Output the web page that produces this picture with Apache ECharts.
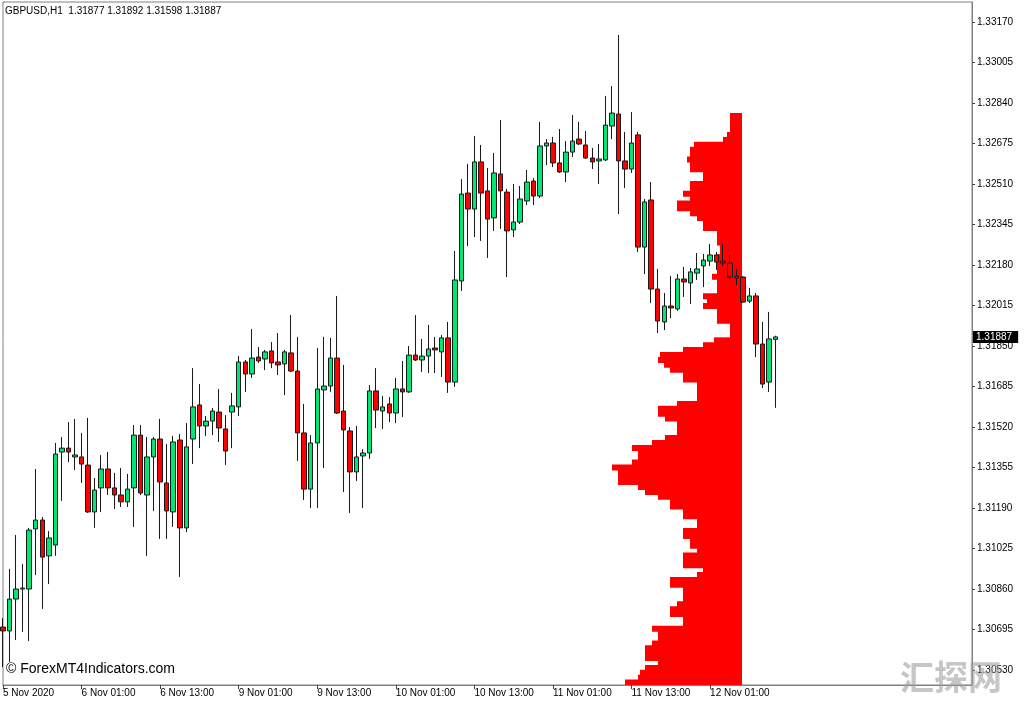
<!DOCTYPE html>
<html><head><meta charset="utf-8">
<script src="https://cdn.jsdelivr.net/npm/echarts@6/dist/echarts.min.js"></script>
<style>html,body{margin:0;padding:0;background:#fff}#c{width:1024px;height:705px}</style>
</head><body><div id="c"></div>
<script>
const symbol = 'GBPUSD,H1';
const tickLabels = ['5 Nov 2020','6 Nov 01:00','6 Nov 13:00','9 Nov 01:00','9 Nov 13:00','10 Nov 01:00','10 Nov 13:00','11 Nov 01:00','11 Nov 13:00','12 Nov 01:00'];
const priceTicks = [1.33170,1.33005,1.32840,1.32675,1.32510,1.32345,1.32180,1.32015,1.31850,1.31685,1.31520,1.31355,1.31190,1.31025,1.30860,1.30695,1.30530];

const opens = [1.30705,1.30689,1.30819,1.30860,1.30860,1.31105,1.31141,1.30995,1.31039,1.31418,
1.31434,1.31398,1.31398,1.31365,1.31174,1.31272,1.31349,1.31272,1.31243,1.31215,
1.31272,1.31487,1.31243,1.31398,1.31471,1.31292,1.31174,1.31467,1.31109,1.31471,
1.31610,1.31524,1.31544,1.31581,1.31512,1.31581,1.31602,1.31785,1.31736,1.31805,
1.31797,1.31830,1.31785,1.31777,1.31822,1.31748,1.31496,1.31267,1.31455,1.31671,
1.31687,1.31801,1.31585,1.31504,1.31337,1.31402,1.31414,1.31667,1.31585,1.31614,
1.31577,1.31675,1.31663,1.31813,1.31793,1.31809,1.31842,1.31826,1.31883,1.31703,
1.32115,1.32473,1.32408,1.32600,1.32482,1.32372,1.32551,1.32477,1.32323,1.32355,
1.32441,1.32522,1.32461,1.32665,1.32677,1.32596,1.32559,1.32640,1.32693,1.32669,
1.32616,1.32604,1.32608,1.32746,1.32795,1.32604,1.32571,1.32710,1.32253,1.32445,
1.32082,1.31948,1.32013,1.32001,1.32123,1.32107,1.32147,1.32176,1.32196,1.32221,
1.32196,1.32188,1.32135,1.32131,1.32033,1.32054,1.31858,1.31703,1.31877];
const closes = [1.30689,1.30819,1.30860,1.30864,1.31100,1.31141,1.30990,1.31068,1.31410,1.31434,
1.31418,1.31406,1.31369,1.31174,1.31263,1.31349,1.31272,1.31243,1.31215,1.31267,
1.31487,1.31251,1.31398,1.31471,1.31296,1.31178,1.31459,1.31109,1.31439,1.31602,
1.31524,1.31544,1.31585,1.31516,1.31422,1.31606,1.31785,1.31736,1.31801,1.31789,
1.31826,1.31781,1.31773,1.31826,1.31748,1.31496,1.31267,1.31455,1.31675,1.31687,
1.31801,1.31577,1.31508,1.31337,1.31398,1.31414,1.31667,1.31589,1.31602,1.31577,
1.31675,1.31663,1.31813,1.31793,1.31809,1.31838,1.31834,1.31883,1.31703,1.32119,
1.32469,1.32408,1.32600,1.32473,1.32367,1.32555,1.32482,1.32319,1.32355,1.32449,
1.32518,1.32461,1.32665,1.32677,1.32596,1.32559,1.32640,1.32685,1.32673,1.32616,
1.32600,1.32612,1.32750,1.32799,1.32604,1.32571,1.32677,1.32253,1.32437,1.32082,
1.31952,1.32013,1.32005,1.32123,1.32111,1.32152,1.32164,1.32200,1.32221,1.32192,
1.32188,1.32131,1.32127,1.32029,1.32054,1.31858,1.31695,1.31879,1.31887];
const highs = [1.30742,1.30942,1.31080,1.30962,1.31109,1.31349,1.31153,1.31096,1.31455,1.31479,
1.31540,1.31553,1.31496,1.31557,1.31312,1.31406,1.31418,1.31333,1.31353,1.31329,
1.31528,1.31528,1.31479,1.31479,1.31553,1.31451,1.31483,1.31492,1.31536,1.31760,
1.31695,1.31565,1.31597,1.31675,1.31569,1.31659,1.31809,1.31793,1.31919,1.31846,
1.31834,1.31866,1.31903,1.31834,1.31976,1.31887,1.31614,1.31487,1.31842,1.31887,
1.31883,1.32054,1.31773,1.31520,1.31524,1.31430,1.31691,1.31760,1.31646,1.31642,
1.31720,1.31789,1.31850,1.31976,1.31879,1.31936,1.31887,1.31895,1.31948,1.32237,
1.32530,1.32592,1.32706,1.32669,1.32575,1.32636,1.32771,1.32490,1.32510,1.32502,
1.32567,1.32534,1.32763,1.32693,1.32702,1.32734,1.32685,1.32791,1.32763,1.32726,
1.32657,1.32673,1.32869,1.32909,1.33117,1.32722,1.32803,1.32722,1.32449,1.32518,
1.32164,1.32066,1.32135,1.32143,1.32172,1.32168,1.32229,1.32225,1.32266,1.32233,
1.32266,1.32221,1.32164,1.32135,1.32086,1.32066,1.31948,1.31989,1.31892];
const lows = [1.30542,1.30563,1.30652,1.30685,1.30648,1.30917,1.30779,1.30880,1.30995,1.31219,
1.31377,1.31345,1.31292,1.31170,1.31109,1.31174,1.31243,1.31186,1.31194,1.31194,
1.31113,1.31243,1.30995,1.31178,1.31064,1.31064,1.31113,1.30909,1.31092,1.31369,
1.31434,1.31483,1.31487,1.31459,1.31365,1.31434,1.31565,1.31663,1.31720,1.31781,
1.31752,1.31760,1.31732,1.31650,1.31744,1.31382,1.31223,1.31190,1.31190,1.31353,
1.31663,1.31573,1.31255,1.31170,1.31300,1.31190,1.31390,1.31516,1.31512,1.31540,
1.31536,1.31561,1.31659,1.31789,1.31744,1.31740,1.31740,1.31724,1.31659,1.31683,
1.32074,1.32257,1.32294,1.32278,1.32209,1.32319,1.32327,1.32131,1.32294,1.32347,
1.32424,1.32424,1.32453,1.32587,1.32579,1.32555,1.32518,1.32620,1.32669,1.32612,
1.32571,1.32510,1.32604,1.32693,1.32388,1.32494,1.32555,1.32233,1.32143,1.32025,
1.31903,1.31915,1.31964,1.31993,1.32050,1.32021,1.32119,1.32090,1.32176,1.32160,
1.32176,1.32119,1.32099,1.32025,1.32025,1.31805,1.31679,1.31663,1.31598];

// volume profile, bins of 0.0002 from the top level downward
const PROFILE_TOP = 1.32800;
const PROFILE_STEP = 0.0002;
const profileVolume = [12,12,12,12,15,19,48,52,52,55,
52,52,39,39,52,52,59,52,65,65,
52,45,39,39,25,25,25,22,22,25,
25,25,25,30,25,25,25,39,35,39,
25,25,25,12,12,12,28,39,59,82,
84,78,72,59,59,45,45,45,45,65,
84,84,77,65,65,65,77,90,110,104,
104,110,130,124,124,124,104,97,84,72,
72,59,59,45,45,59,59,52,52,45,
59,59,59,39,45,72,72,59,59,59,
65,72,72,59,59,90,84,84,90,97,
97,97,84,97,102,104,117];

const Y_MIN = 1.304689, Y_MAX = 1.332515;
const SLOTS = 149;
const slots = Array.from({length: SLOTS}, (_, i) => String(i));
const candles = opens.map((o, i) => [o, closes[i], lows[i], highs[i]]);
const profileLevels = profileVolume.map((_, j) => (PROFILE_TOP - j * PROFILE_STEP).toFixed(4));
const last = opens.length - 1;
const FONT = '"Liberation Sans", Arial, sans-serif';
const showTick = (i) => i % 12 === 0 && i < opens.length;

const chart = echarts.init(document.getElementById('c'));
chart.setOption({
  animation: false,
  backgroundColor: '#ffffff',
  title: {
    text: symbol + '  ' + [opens[last], highs[last], lows[last], closes[last]].map(v => v.toFixed(5)).join(' '),
    left: 5, top: 6, padding: 0,
    textStyle: {fontSize: 10, fontWeight: 'normal', color: '#000', fontFamily: FONT}
  },
  grid: [
    {left: 2, right: 52, top: 2, bottom: 20, show: true, borderColor: '#808080', borderWidth: 1, backgroundColor: 'transparent'},
    {left: 2, right: 282, top: 113, bottom: 20}
  ],
  xAxis: [
    {type: 'category', gridIndex: 0, data: slots, boundaryGap: false,
     axisLine: {lineStyle: {color: '#808080'}},
     axisTick: {interval: showTick, length: 4, lineStyle: {color: '#404040'}},
     axisLabel: {interval: showTick, align: 'left', margin: 3, fontSize: 10, color: '#000', fontFamily: FONT,
                 formatter: (v, i) => tickLabels[i / 12] || ''},
     splitLine: {show: false}},
    {type: 'value', gridIndex: 1, inverse: true, min: 0, max: 740, show: false}
  ],
  yAxis: [
    {type: 'value', gridIndex: 0, position: 'right', min: Y_MIN, max: Y_MAX, scale: true,
     axisLine: {show: true, lineStyle: {color: '#808080'}},
     axisTick: {show: true, length: 3, customValues: priceTicks, lineStyle: {color: '#404040'}},
     axisLabel: {customValues: priceTicks, formatter: v => v.toFixed(5), fontSize: 10, color: '#000', margin: 5, fontFamily: FONT},
     splitLine: {show: false}},
    {type: 'value', gridIndex: 0, position: 'right', min: Y_MIN, max: Y_MAX, scale: true, z: 10,
     axisLine: {show: false}, axisTick: {show: false},
     axisLabel: {customValues: [closes[last]], formatter: v => v.toFixed(5), fontSize: 10, color: '#fff',
                 backgroundColor: '#000', padding: [1, 6, 1, 3], margin: 1, fontFamily: FONT},
     splitLine: {show: false}},
    {type: 'category', gridIndex: 1, data: profileLevels, inverse: true, show: false}
  ],
  series: [
    {type: 'bar', xAxisIndex: 1, yAxisIndex: 2, data: profileVolume, barWidth: 6, barGap: '-100%',
     itemStyle: {color: '#ff0000'}, silent: true, z: 1},
    {type: 'candlestick', xAxisIndex: 0, yAxisIndex: 0, data: candles, barWidth: 5,
     itemStyle: {color: '#00e676', color0: '#ff0000', borderColor: '#1a1a1a', borderColor0: '#1a1a1a', borderWidth: 1},
     z: 2}
  ],
  graphic: [
    {type: 'text', left: 6, top: 662, z: 100,
     style: {text: '\u00a9 ForexMT4Indicators.com', fontSize: 14, fill: '#000', fontFamily: FONT}},
    {type: 'text', left: 900, top: 660, z: 100,
     style: {text: '汇探网', fontSize: 34, fontWeight: 'bold', fill: 'rgba(160,160,160,0.6)', fontFamily: '"Noto Sans CJK SC", sans-serif'}}
  ]
});
</script></body></html>
